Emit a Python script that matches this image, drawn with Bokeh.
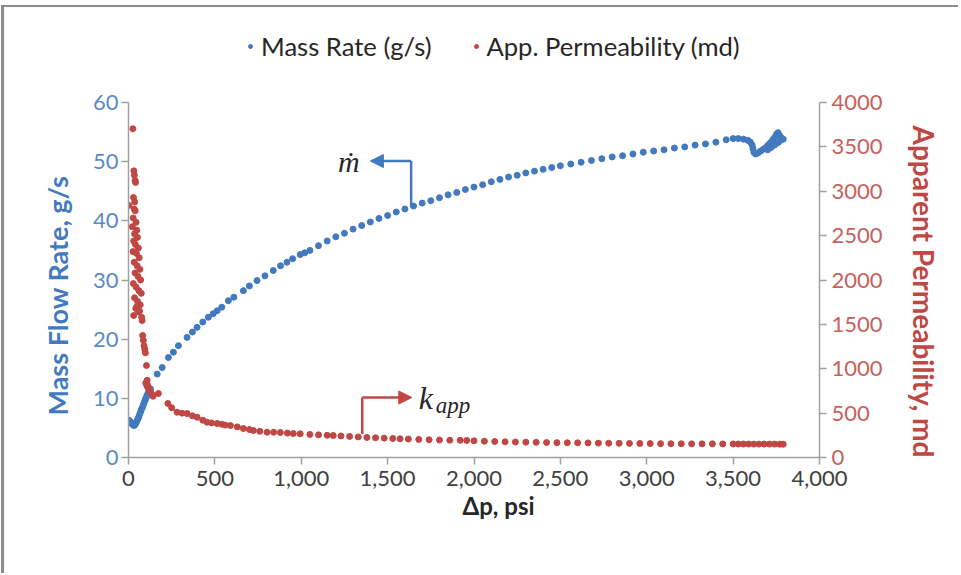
from bokeh.plotting import figure
from bokeh.models import (LinearAxis, Range1d, FixedTicker, NumeralTickFormatter,
                          Legend, LegendItem, Arrow, NormalHead, Label, Title)
from bokeh.embed import file_html
from bokeh.resources import INLINE

# ---------------- data ----------------
dp_mass = [3, 8, 14, 20, 26, 31, 36, 41, 46, 51, 56, 61, 66, 71, 76, 81, 86, 91, 96, 101,
           106, 111, 116, 121, 127,
           166, 195, 231, 260, 289, 339, 370, 397, 430, 462, 490, 513, 540, 578, 610,
           665, 700, 744, 790, 838, 880, 917, 950, 994, 1020, 1050, 1100, 1150, 1200,
           1250, 1300, 1350, 1400, 1450, 1500, 1550, 1600, 1650, 1700, 1750, 1800,
           1850, 1900, 1950, 2000, 2050, 2100, 2150, 2200, 2250, 2300, 2350, 2400,
           2450, 2500, 2560, 2620, 2680, 2740, 2800, 2860, 2920, 2980, 3040, 3100,
           3160, 3220, 3280, 3340, 3400, 3460, 3500, 3530, 3560, 3585, 3600, 3610,
           3615, 3620, 3630, 3645, 3660, 3675, 3690, 3700, 3710, 3720, 3730, 3740,
           3750, 3760, 3770, 3780, 3790, 3700, 3720, 3740, 3760, 3775]
mass_rate = [6.3, 6.1, 5.9, 5.7, 5.5, 5.4, 5.5, 5.7, 6.0, 6.3, 6.6, 7.0, 7.4, 7.8, 8.2,
             8.5, 8.9, 9.3, 9.7, 10.0, 10.4, 10.7, 11.0, 11.3, 11.6,
             14.1, 15.2, 16.9, 17.8, 18.9, 20.3, 21.2, 22.0, 22.9, 23.7, 24.3, 24.8,
             25.4, 26.5, 27.1, 28.2, 29.0, 29.9, 30.7, 31.6, 32.4, 33.0, 33.6, 34.3,
             34.6, 35.0, 35.8, 36.6, 37.3, 37.9, 38.6, 39.2, 39.8, 40.4, 40.9, 41.5,
             42.0, 42.5, 43.0, 43.4, 43.9, 44.4, 44.8, 45.3, 45.7, 46.1, 46.6, 47.0,
             47.4, 47.7, 48.1, 48.4, 48.7, 49.0, 49.3, 49.6, 49.9, 50.2, 50.5, 50.8,
             51.0, 51.3, 51.6, 51.8, 52.0, 52.3, 52.5, 52.8, 53.0, 53.3, 53.7, 53.9,
             53.9, 53.8, 53.6, 53.3, 52.8, 52.2, 51.6, 51.3, 51.5, 51.8, 52.1, 52.4,
             52.7, 53.0, 53.3, 53.7, 54.1, 54.6, 54.9, 54.4, 54.0, 53.8, 52.0, 52.4,
             52.8, 53.2, 53.6]

dp_perm = [25, 31, 34, 38, 41, 29, 36, 2, 33, 39, 27, 44, 22, 48, 35, 52, 30, 40, 57,
           26, 46, 62, 33, 50, 66, 38, 55, 70, 28, 44, 60, 74, 35, 52, 68, 42, 58, 30,
           76, 48, 64, 79, 82, 86, 90, 94, 98, 104, 108, 100, 106, 112, 118, 124, 130,
           136, 142, 110, 120,
           173, 228, 250, 281, 310, 339, 370, 397, 430, 455, 480, 513, 540, 560, 590,
           630, 665, 700, 723, 760, 802, 840, 879, 920, 954, 994, 1050, 1100, 1150,
           1185, 1230, 1280, 1330, 1380, 1430, 1480, 1530, 1572, 1620, 1680, 1740,
           1800, 1860, 1920, 1958, 2000, 2060, 2120, 2180, 2240, 2300, 2360, 2420,
           2480, 2540, 2600, 2660, 2720, 2780, 2840, 2900, 2960, 3020, 3080, 3140,
           3200, 3260, 3320, 3380, 3440, 3500, 3530, 3560, 3590, 3620, 3650, 3680,
           3710, 3740, 3770, 3790]
perm = [3704, 3230, 3180, 3120, 3100, 2930, 2880, 2840, 2800, 2780, 2700, 2650, 2600,
        2560, 2520, 2480, 2440, 2400, 2360, 2320, 2300, 2250, 2200, 2160, 2120, 2080,
        2040, 2000, 1960, 1920, 1880, 1850, 1800, 1760, 1720, 1680, 1640, 1600, 1580,
        1700, 1650, 1544, 1375, 1320, 1260, 1220, 1180, 1037, 870, 840, 810, 790, 770,
        750, 730, 710, 690, 820, 760,
        721, 608, 560, 510, 500, 495, 470, 454, 420, 398, 390, 383, 375, 365, 360,
        345, 327, 315, 304, 295, 285, 285, 282, 275, 270, 267, 260, 255, 250, 248,
        243, 238, 232, 226, 222, 218, 214, 211, 208, 204, 200, 197, 195, 193, 192,
        188, 184, 180, 177, 175, 173, 171, 169, 167, 166, 165, 164, 162, 161, 160,
        159, 158, 157, 156, 155, 155, 154, 154, 154, 153, 153, 152, 152, 152, 151,
        151, 151, 151, 151, 150, 150]

x_ticks = [0, 500, 1000, 1500, 2000, 2500, 3000, 3500, 4000]
mass_ticks = [0, 10, 20, 30, 40, 50, 60]
perm_ticks = [0, 500, 1000, 1500, 2000, 2500, 3000, 3500, 4000]
MASS_MAX, PERM_MAX = 60, 4000

# annotation anchors (data units)
mdot_arrow = dict(x=1636, y0=42.3, y1=50.1, x_tip=1400)
kapp_arrow = dict(x=1353, y0=265, y1=676, x_tip=1640)

BLUE = "#4279bf"
RED = "#bf4744"
FONT = "Lato"

# layout: the frame runs to the top of the canvas so that the legend can sit
# above the axes' top; axis lines are bounded to the data span
W, H = 957, 568
FRAME_H = 450          # frame height in px (canvas top to x axis)
AX_H = 355             # px spanned by the value axes
scale_top = FRAME_H / AX_H

p = figure(width=W, height=H, x_range=Range1d(0, 4000),
           y_range=Range1d(0, MASS_MAX * scale_top),
           output_backend="svg", toolbar_location=None,
           min_border_left=124, min_border_right=141, min_border_top=0,
           min_border_bottom=H - FRAME_H)
p.styles = {"border-top": "2px solid #8c8c8c", "border-left": "3px solid #8c8c8c",
            "margin-top": "5px", "margin-left": "1px"}
p.outline_line_color = None
p.xgrid.visible = False
p.ygrid.visible = False
p.background_fill_color = "white"
p.border_fill_color = "white"

p.extra_y_ranges = {"perm": Range1d(0, PERM_MAX * scale_top)}

r_mass = p.scatter(dp_mass, mass_rate, size=6, color=BLUE)
r_perm = p.scatter(dp_perm, perm, size=6, color=RED, y_range_name="perm")

axis_line = "#a0a0a0"

xa = p.xaxis[0]
xa.ticker = FixedTicker(ticks=x_ticks)
xa.formatter = NumeralTickFormatter(format="0,0")
ya = p.yaxis[0]
ya.ticker = FixedTicker(ticks=mass_ticks)
ya.bounds = (0, MASS_MAX)

ra = LinearAxis(y_range_name="perm", ticker=FixedTicker(ticks=perm_ticks),
                bounds=(0, PERM_MAX))
p.add_layout(ra, "right")

for ax, lab_col in ((xa, "#404040"), (ya, "#5a8ac6"), (ra, "#c8605d")):
    ax.axis_line_color = axis_line
    ax.axis_line_width = 1.5
    ax.major_tick_line_color = axis_line
    ax.major_tick_line_width = 1.5
    ax.major_tick_in = 0
    ax.major_tick_out = 7
    ax.minor_tick_line_color = None
    ax.major_label_text_font = FONT
    ax.major_label_text_font_size = "22px"
    ax.major_label_text_color = lab_col

xa.major_label_standoff = 6
ya.major_label_standoff = 3
ra.major_label_standoff = 5

# axis titles (as side titles so that they can be positioned like the original)
p.add_layout(Title(text="Mass Flow Rate, g/s", align="left", offset=42,
                   vertical_align="middle", standoff=30, text_font=FONT,
                   text_font_size="27px", text_font_style="bold",
                   text_color=BLUE), "left")
p.add_layout(Title(text="Apparent Permeability, md", align="left", offset=118,
                   vertical_align="middle", standoff=40, text_font=FONT,
                   text_font_size="28px", text_font_style="bold",
                   text_color=RED), "right")
p.add_layout(Title(text="Δp, psi", align="left", offset=334,
                   vertical_align="top", standoff=4, text_font=FONT,
                   text_font_size="24px", text_font_style="bold",
                   text_color="#262626"), "below")

legend = Legend(items=[LegendItem(label="Mass Rate (g/s)", renderers=[r_mass]),
                       LegendItem(label="App. Permeability (md)", renderers=[r_perm])],
                orientation="horizontal", location=(117, 396),
                label_text_font=FONT, label_text_font_size="25.6px",
                label_text_color="#262626", glyph_width=10, glyph_height=10,
                label_standoff=6, spacing=39, padding=0, margin=0,
                background_fill_alpha=0, border_line_color=None)
p.add_layout(legend)

# annotations
p.line([mdot_arrow["x"], mdot_arrow["x"]], [mdot_arrow["y0"], mdot_arrow["y1"]],
       line_color=BLUE, line_width=2.5)
p.add_layout(Arrow(end=NormalHead(size=13, fill_color=BLUE, line_color=BLUE),
                   x_start=mdot_arrow["x"], y_start=mdot_arrow["y1"],
                   x_end=mdot_arrow["x_tip"], y_end=mdot_arrow["y1"],
                   line_color=BLUE, line_width=2.5))
p.add_layout(Label(x=1275, y=50.1, text="ṁ", text_font="Liberation Serif",
                   text_font_style="italic", text_font_size="30px",
                   text_color="#262626", text_align="center", text_baseline="middle"))

p.line([kapp_arrow["x"], kapp_arrow["x"]], [kapp_arrow["y0"], kapp_arrow["y1"]],
       line_color=RED, line_width=2.5, y_range_name="perm")
p.add_layout(Arrow(end=NormalHead(size=13, fill_color=RED, line_color=RED),
                   x_start=kapp_arrow["x"], y_start=kapp_arrow["y1"],
                   x_end=kapp_arrow["x_tip"], y_end=kapp_arrow["y1"],
                   y_range_name="perm", line_color=RED, line_width=2.5))
p.add_layout(Label(x=1680, y=676, y_range_name="perm", text="k", text_font="Liberation Serif",
                   text_font_style="italic", text_font_size="32px",
                   text_color="#262626", text_align="left", text_baseline="middle"))
p.add_layout(Label(x=1680, y=676, y_range_name="perm", x_offset=17, y_offset=-8,
                   text="app", text_font="Liberation Serif",
                   text_font_style="italic", text_font_size="23px",
                   text_color="#262626", text_align="left", text_baseline="middle"))

open("out.html", "w").write(file_html(p, INLINE))
